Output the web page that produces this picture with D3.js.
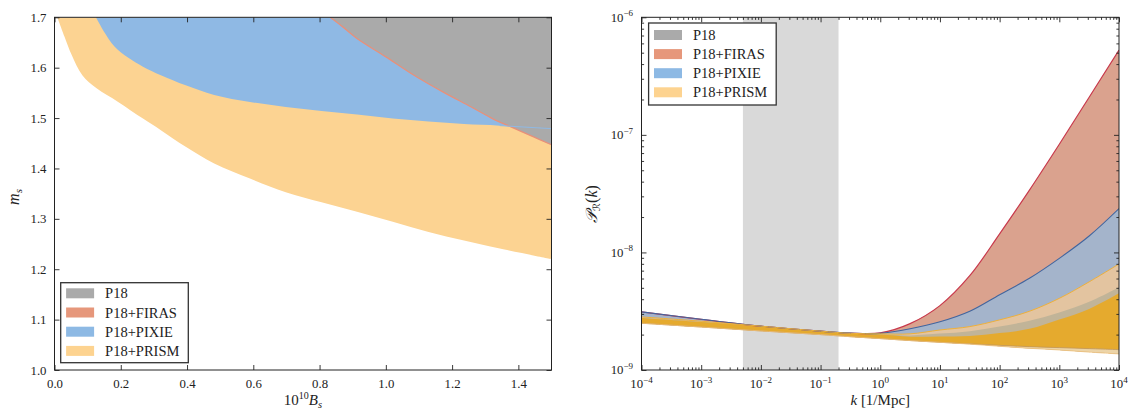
<!DOCTYPE html>
<html><head><meta charset="utf-8">
<script src="https://cdn.jsdelivr.net/npm/d3@7"></script>
<style>
html,body{margin:0;padding:0;background:#fff;}
svg{display:block;}
text{font-family:"Liberation Serif","Times New Roman",serif;fill:#222;}
</style>
</head><body>
<svg id="c" width="1129" height="410"></svg>
<script>
// ---------- Left panel data (10^10 B_s vs m_s) ----------
const bsPRISM = [0.0086,0.030,0.052,0.084,0.127,0.192,0.267,0.321,0.396,0.482,0.590,0.698,0.806,0.913,1.021,1.129,1.236,1.344,1.5];
const msPRISM = [1.700,1.662,1.625,1.585,1.559,1.532,1.499,1.476,1.443,1.410,1.380,1.353,1.333,1.314,1.294,1.274,1.257,1.241,1.220];
const bsPIXIE = [0.125,0.149,0.181,0.224,0.267,0.321,0.396,0.482,0.590,0.698,0.806,0.913,1.021,1.129,1.236,1.344,1.5];
const msPIXIE = [1.700,1.672,1.642,1.619,1.602,1.585,1.565,1.546,1.532,1.522,1.514,1.507,1.499,1.493,1.488,1.485,1.479];
const bsP18 = [0.832,0.870,0.913,0.999,1.085,1.172,1.258,1.322,1.376,1.441,1.5];
const msP18 = [1.700,1.681,1.658,1.622,1.585,1.552,1.522,1.499,1.483,1.464,1.447];
const xTicksLeft = [0.0,0.2,0.4,0.6,0.8,1.0,1.2,1.4];
const yTicksLeft = [1.0,1.1,1.2,1.3,1.4,1.5,1.6,1.7];

// ---------- Right panel data (k vs P_R(k), in units of 1e-9) ----------
const kGrid     = [1e-4,1e-3,1e-2,1e-1,0.316,1,3.16,10,31.6,100,316,1000,3162,1e4];
const bottomP   = [2.50,2.32,2.15,2.00,1.92,1.85,1.78,1.72,1.66,1.59,1.53,1.48,1.42,1.37];
const orangeLow = [2.50,2.32,2.15,2.00,1.92,1.85,1.78,1.72,1.67,1.62,1.58,1.55,1.52,1.49];
const orangeTop = [2.77,2.56,2.35,2.13,2.04,2.00,1.92,1.93,1.95,2.06,2.24,2.69,3.31,4.50];
const tanTop    = [2.80,2.58,2.35,2.14,2.05,2.02,1.97,2.04,2.14,2.34,2.63,3.09,3.80,5.06];
const prismTop  = [2.83,2.60,2.36,2.14,2.05,2.03,2.03,2.19,2.34,2.67,3.16,4.07,5.62,7.98];
const pixieTop  = [3.12,2.70,2.36,2.14,2.06,2.05,2.24,2.57,3.16,4.37,6.03,8.91,13.8,23.6];
const firasTop  = [3.12,2.70,2.36,2.14,2.06,2.07,2.48,3.53,6.34,14.4,33.9,83.2,209,527];
const kBand = [5e-3, 0.2];
const xTickExpRight = [-4,-3,-2,-1,0,1,2,3,4];
const yTickExpRight = [-9,-8,-7,-6];

// ---------- Legend ----------
const legendLabels = ["P18","P18+FIRAS","P18+PIXIE","P18+PRISM"];
const legendColors = ["#aaaaaa","#e6977b","#8db9e4","#fdd390"];

const svg = d3.select("#c");
const TOP = 17.3, BOT = 370;
const curve = d3.curveCatmullRom.alpha(0.5);

// ================= LEFT PANEL =================
const xL = d3.scaleLinear([0,1.5],[54.5,551.5]);
const yL = d3.scaleLinear([1.0,1.7],[BOT,TOP]);
svg.append("clipPath").attr("id","clipL").append("rect")
  .attr("x",xL(0)).attr("y",yL(1.7)).attr("width",xL(1.5)-xL(0)).attr("height",yL(1.0)-yL(1.7));
const gL = svg.append("g").attr("clip-path","url(#clipL)");
const zip = (a,b)=>a.map((v,i)=>[v,b[i]]);
const areaTop = d3.area().x(d=>xL(d[0])).y0(d=>yL(d[1])).y1(yL(1.7)).curve(curve);
const lineL = d3.line().x(d=>xL(d[0])).y(d=>yL(d[1])).curve(curve);
gL.append("path").attr("d",areaTop(zip(bsPRISM,msPRISM))).attr("fill","#fcd392");
gL.append("path").attr("d",areaTop(zip(bsPIXIE,msPIXIE))).attr("fill","#8fb9e4");
gL.append("path").attr("d",areaTop(zip(bsP18,msP18))).attr("fill","#aaaaaa");
gL.append("path").attr("d",lineL(zip(bsP18,msP18))).attr("fill","none").attr("stroke","#e8907a").attr("stroke-width",1.3);
gL.append("path").attr("d",lineL(zip(bsPIXIE,msPIXIE).filter(d=>d[0]>=1.3))).attr("fill","none").attr("stroke","#8fb9e4").attr("stroke-width",1);

function styleAxis(g, fs){
  g.select(".domain").remove();
  g.selectAll("line").attr("stroke","#222").attr("stroke-width",0.9);
  g.selectAll("text").attr("font-family","Liberation Serif, serif").attr("font-size",fs).attr("fill","#222");
}
const fmt1 = d3.format(".1f");
styleAxis(svg.append("g").attr("transform",`translate(0,${BOT})`)
  .call(d3.axisBottom(xL).tickValues(xTicksLeft).tickSizeInner(-5).tickSizeOuter(0).tickPadding(8.5).tickFormat(fmt1)),12.8);
styleAxis(svg.append("g").attr("transform",`translate(0,${TOP})`)
  .call(d3.axisTop(xL).tickValues(xTicksLeft).tickSizeInner(-5).tickSizeOuter(0).tickFormat(()=>"")),12.8);
styleAxis(svg.append("g").attr("transform",`translate(${xL(0)},0)`)
  .call(d3.axisLeft(yL).tickValues(yTicksLeft).tickSizeInner(-5).tickSizeOuter(0).tickPadding(8).tickFormat(fmt1)),12.8);
styleAxis(svg.append("g").attr("transform",`translate(${xL(1.5)},0)`)
  .call(d3.axisRight(yL).tickValues(yTicksLeft).tickSizeInner(-5).tickSizeOuter(0).tickFormat(()=>"")),12.8);
svg.append("rect").attr("x",xL(0)).attr("y",TOP).attr("width",xL(1.5)-xL(0)).attr("height",BOT-TOP)
  .attr("fill","none").attr("stroke","#222").attr("stroke-width",1);

// axis titles left
const tx = svg.append("text").attr("x",(xL(0)+xL(1.5))/2).attr("y",404.5).attr("text-anchor","middle").attr("font-size",15);
tx.append("tspan").text("10");
tx.append("tspan").attr("font-size",10).attr("dy",-6).text("10");
tx.append("tspan").attr("dy",6).attr("font-style","italic").text("B");
tx.append("tspan").attr("dy",3).attr("font-size",10.5).attr("font-style","italic").text("s");
const ty = svg.append("text").attr("transform","translate(19,197) rotate(-90)").attr("text-anchor","middle").attr("font-size",16);
ty.append("tspan").attr("font-style","italic").text("m");
ty.append("tspan").attr("dy",3).attr("font-size",11).attr("font-style","italic").text("s");

function legend(x0,y0,w,h,rowH,firstOff){
  const g = svg.append("g");
  g.append("rect").attr("x",x0).attr("y",y0).attr("width",w).attr("height",h)
    .attr("fill","#fff").attr("stroke","#333").attr("stroke-width",1.3);
  legendLabels.forEach((lab,i)=>{
    const cy = y0+firstOff+i*rowH;
    g.append("rect").attr("x",x0+5.4).attr("y",cy-5).attr("width",28).attr("height",10).attr("fill",legendColors[i]);
    g.append("text").attr("x",x0+44.4).attr("y",cy+5).attr("font-size",14.5).text(lab);
  });
}
legend(60.7,282.7,127.6,80,19.2,10.6);

// ================= RIGHT PANEL =================
const xR = d3.scaleLog([1e-4,1e4],[641.5,1119]);
const yR = d3.scaleLog([1e-9,1e-6],[BOT,TOP]);
svg.append("clipPath").attr("id","clipR").append("rect")
  .attr("x",xR(1e-4)).attr("y",TOP).attr("width",xR(1e4)-xR(1e-4)).attr("height",BOT-TOP);
const gR = svg.append("g").attr("clip-path","url(#clipR)");
gR.append("rect").attr("x",xR(kBand[0])).attr("y",TOP).attr("width",xR(kBand[1])-xR(kBand[0])).attr("height",BOT-TOP).attr("fill","#d9d9d9");

const band = (lo,hi)=>kGrid.map((k,i)=>({k, lo:lo[i]*1e-9, hi:hi[i]*1e-9}));
const areaR = d3.area().x(d=>xR(d.k)).y0(d=>yR(d.lo)).y1(d=>yR(d.hi)).curve(curve);
const lineR = d3.line().x(d=>xR(d.k)).y(d=>yR(d.hi)).curve(curve);
gR.append("path").attr("d",areaR(band(bottomP,firasTop))).attr("fill","#daa28e");
gR.append("path").attr("d",areaR(band(bottomP,pixieTop))).attr("fill","#a4b4cb");
gR.append("path").attr("d",areaR(band(bottomP,prismTop))).attr("fill","#e3c4a0");
gR.append("path").attr("d",areaR(band(bottomP,tanTop))).attr("fill","#c1b498");
gR.append("path").attr("d",areaR(band(bottomP,orangeLow))).attr("fill","#ecd4a8");
gR.append("path").attr("d",areaR(band(orangeLow,orangeTop))).attr("fill","#e5aa2e");
gR.append("path").attr("d",lineR(band(bottomP,firasTop))).attr("fill","none").attr("stroke","#c8394c").attr("stroke-width",1.2);
gR.append("path").attr("d",lineR(band(bottomP,pixieTop))).attr("fill","none").attr("stroke","#42659e").attr("stroke-width",1.1);
gR.append("path").attr("d",lineR(band(bottomP,prismTop))).attr("fill","none").attr("stroke","#eeb03a").attr("stroke-width",1);
gR.append("path").attr("d",lineR(band(bottomP,orangeLow))).attr("fill","none").attr("stroke","#c49552").attr("stroke-width",0.8);
gR.append("path").attr("d",lineR(band(bottomP,bottomP))).attr("fill","none").attr("stroke","#f0c27a").attr("stroke-width",0.8);

const xMaj = xTickExpRight.map(e=>Math.pow(10,e));
const yMaj = yTickExpRight.map(e=>Math.pow(10,e));
const minors = (lo,hi)=>{const a=[];for(let e=lo;e<hi;e++)for(let m=2;m<=9;m++)a.push(m*Math.pow(10,e));return a;};
const xMin = minors(-4,4), yMin = minors(-9,-6);
const none = ()=>"";
[[d3.axisBottom,`translate(0,${BOT})`],[d3.axisTop,`translate(0,${TOP})`]].forEach(([ax,tr])=>{
  styleAxis(svg.append("g").attr("transform",tr).call(ax(xR).tickValues(xMaj).tickSizeInner(-5).tickSizeOuter(0).tickFormat(none)),12);
  styleAxis(svg.append("g").attr("transform",tr).call(ax(xR).tickValues(xMin).tickSizeInner(-2.6).tickSizeOuter(0).tickFormat(none)),12);
});
[[d3.axisLeft,`translate(${xR(1e-4)},0)`],[d3.axisRight,`translate(${xR(1e4)},0)`]].forEach(([ax,tr])=>{
  styleAxis(svg.append("g").attr("transform",tr).call(ax(yR).tickValues(yMaj).tickSizeInner(-5).tickSizeOuter(0).tickFormat(none)),12);
  styleAxis(svg.append("g").attr("transform",tr).call(ax(yR).tickValues(yMin).tickSizeInner(-2.6).tickSizeOuter(0).tickFormat(none)),12);
});
const expStr = e => (e<0?"\u2212":"")+Math.abs(e);
xTickExpRight.forEach(e=>{
  const t = svg.append("text").attr("x",xR(Math.pow(10,e))).attr("y",388).attr("text-anchor","middle").attr("font-size",12.8);
  t.append("tspan").text("10");
  t.append("tspan").attr("dy",-5.5).attr("font-size",9).text(expStr(e));
});
yTickExpRight.forEach(e=>{
  const t = svg.append("text").attr("x",xR(1e-4)-8.5).attr("y",yR(Math.pow(10,e))+4.3).attr("text-anchor","end").attr("font-size",12.8);
  t.append("tspan").text("10");
  t.append("tspan").attr("dy",-5.5).attr("font-size",9).text(expStr(e));
});
svg.append("rect").attr("x",xR(1e-4)).attr("y",TOP).attr("width",xR(1e4)-xR(1e-4)).attr("height",BOT-TOP)
  .attr("fill","none").attr("stroke","#222").attr("stroke-width",1);

const kx = svg.append("text").attr("x",(xR(1e-4)+xR(1e4))/2).attr("y",405).attr("text-anchor","middle").attr("font-size",15);
kx.append("tspan").attr("font-style","italic").text("k");
kx.append("tspan").text(" [1/Mpc]");
const py = svg.append("text").attr("transform","translate(597,204) rotate(-90)").attr("text-anchor","middle").attr("font-size",16);
py.append("tspan").attr("font-family","DejaVu Serif, serif").attr("font-style","italic").text("\uD835\uDCAB");
py.append("tspan").attr("dy",3).attr("font-size",10).attr("font-family","DejaVu Sans, serif").text("\u211B");
py.append("tspan").attr("dy",-3).text("(");
py.append("tspan").attr("font-style","italic").text("k");
py.append("tspan").text(")");

legend(648.6,23,127.6,82,19.1,12);
</script>
</body></html>
